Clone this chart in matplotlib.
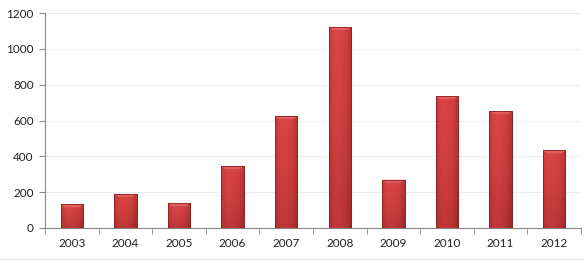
import matplotlib
matplotlib.use("Agg")
import matplotlib.pyplot as plt
import numpy as np
from matplotlib.colors import LinearSegmentedColormap
from matplotlib.patches import Polygon

years = ["2003", "2004", "2005", "2006", "2007", "2008", "2009", "2010", "2011", "2012"]
values = [132, 190, 138, 344, 625, 1122, 269, 736, 653, 433]
yticks = [0, 200, 400, 600, 800, 1000, 1200]

plt.rcParams['font.family'] = ['Lato', 'DejaVu Sans']

fig = plt.figure(figsize=(5.85, 2.62), dpi=100)
ax = fig.add_axes([45/585, 1 - 228/262, (581-45)/585, (228-13)/262])

x = np.arange(len(years))
width = 0.42
bars = ax.bar(x, values, width=width, color='#c83a3a', edgecolor='#8a2222', linewidth=0.6, zorder=3)

cmap_v = LinearSegmentedColormap.from_list('v', ['#dc4646', '#cc3d3d', '#ae2f2f'])
cmap_h = LinearSegmentedColormap.from_list('h', ['#a83030', '#d84444', '#d84444', '#c23838', '#7e1e1e'])
gv = np.linspace(0, 1, 256).reshape(-1, 1)
gh = np.linspace(0, 1, 64).reshape(1, -1)
for b, v in zip(bars, values):
    x0 = b.get_x(); w = b.get_width()
    # vertical gradient: light at top, darker at bottom
    im = ax.imshow(gv, cmap=cmap_v, aspect='auto', extent=[x0, x0 + w, 0, v],
                   origin='upper', zorder=3.1, interpolation='bicubic')
    im.set_clip_path(b)
    im2 = ax.imshow(gh, cmap=cmap_h, aspect='auto', extent=[x0, x0 + w, 0, v],
                    alpha=0.4, zorder=3.2, interpolation='bicubic')
    im2.set_clip_path(b)
    # top bevel
    bev = 16
    ins = w * 0.18
    poly = Polygon([[x0, v], [x0 + w, v], [x0 + w - ins, v - bev], [x0 + ins, v - bev]],
                   closed=True, facecolor='#e46060', edgecolor='none', zorder=3.3)
    ax.add_patch(poly)
    ax.bar(x0 + w / 2, v, width=w, facecolor='none', edgecolor='#8a2222', linewidth=0.6, zorder=3.4)

ax.set_xlim(-0.5, len(years) - 0.5)
ax.set_ylim(0, 1200)
ax.set_yticks(yticks)
ax.set_yticklabels([str(t) for t in yticks], fontsize=8.5, color='#222222')
ax.set_xticks(x)
ax.set_xticklabels(years, fontsize=8.5, color='#222222')
ax.tick_params(axis='x', length=0, pad=7)
ax.set_xticks(np.arange(-0.5, len(years), 1.0), minor=True)
ax.tick_params(axis='x', which='minor', length=4, color='#888888', direction='out')
ax.tick_params(axis='y', length=4, color='#888888', direction='out', pad=4)

ax.grid(axis='y', color='#ececec', linewidth=0.8, zorder=0)
ax.set_axisbelow(True)
for s in ['top', 'right']:
    ax.spines[s].set_visible(False)
ax.spines['left'].set_color('#888888')
ax.spines['bottom'].set_color('#888888')
ax.spines['left'].set_linewidth(0.8)
ax.spines['bottom'].set_linewidth(0.8)

fig.add_artist(plt.Line2D([0.0, 1.0], [1 - 259/262, 1 - 259/262], color='#e6e6e6', linewidth=0.8))

fig.savefig('out.png', dpi=100, facecolor='white')
